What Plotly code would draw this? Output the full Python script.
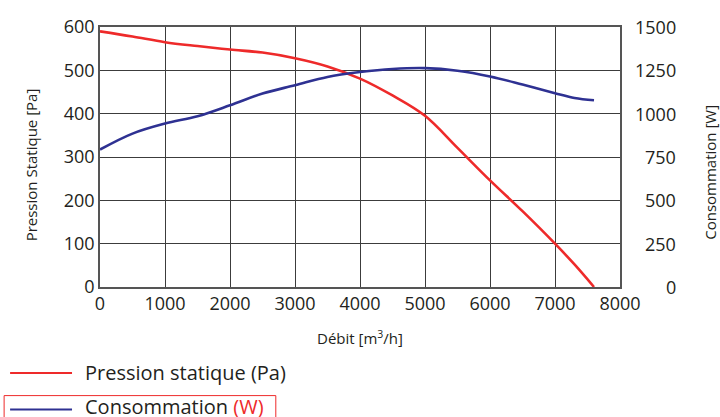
import plotly.graph_objects as go

# Data
debit = [0, 500, 1000, 1500, 2000, 2500, 3000, 3500, 4000, 4500, 5000, 5500, 6000, 6500, 7000, 7300, 7600]
pression = [590, 578, 565, 556, 548, 541, 528, 509, 481, 442, 395, 321, 246, 175, 100, 52, 0]
consommation = [793, 885, 943, 985, 1048, 1116, 1164, 1212, 1240, 1258, 1263, 1248, 1215, 1168, 1118, 1090, 1077]

x_ticks = [0, 1000, 2000, 3000, 4000, 5000, 6000, 7000, 8000]
y_ticks = [0, 100, 200, 300, 400, 500, 600]
y2_ticks = [0, 250, 500, 750, 1000, 1250, 1500]

legend_names = ["Pression statique (Pa)", "Consommation <span style='color:#ee2a2a'>(W)</span>"]

RED = "#ee2a2a"
BLUE = "#2e3192"
TXT = "#231f20"
GRID = "#3c3c3c"
FONT = "Open Sans"

fig = go.Figure()
fig.add_trace(go.Scatter(x=debit, y=pression, mode="lines", line=dict(color=RED, width=2.6, shape="spline"),
                         name="Pression statique (Pa)", showlegend=False))
fig.add_trace(go.Scatter(x=debit, y=consommation, mode="lines", line=dict(color=BLUE, width=2.6, shape="spline"),
                         name="Consommation (W)", yaxis="y2", showlegend=False))

axis_common = dict(showgrid=True, gridcolor=GRID, gridwidth=1, showline=True, linecolor="#555555",
                   linewidth=1.5, mirror=True, zeroline=False, ticks="",
                   tickfont=dict(family=FONT, size=18, color=TXT))

fig.update_layout(
    width=720, height=417,
    margin=dict(l=100, r=99.5, t=26.7, b=130.3, autoexpand=False),
    paper_bgcolor="white", plot_bgcolor="white",
    font=dict(family=FONT, color=TXT),
    xaxis=dict(range=[0, 8000], tickvals=x_ticks, ticktext=[str(v) for v in x_ticks],
               title=dict(text="Débit [m<sup>3</sup>/h]", font=dict(family=FONT, size=15, color=TXT), standoff=19),
               **axis_common),
    yaxis=dict(range=[0, 600], tickvals=y_ticks, ticktext=[str(v) for v in y_ticks], **axis_common),
    yaxis2=dict(range=[0, 1500], tickvals=y2_ticks, overlaying="y", side="right", showgrid=False,
                showticklabels=False, zeroline=False, showline=False, ticks=""),
)

# left axis title
fig.add_annotation(x=-0.1326, xref="paper", y=0.468, yref="paper", text="Pression Statique [Pa]", showarrow=False,
                   textangle=-90, xanchor="center", yanchor="middle", font=dict(family=FONT, size=15, color=TXT))

# right axis tick labels, right aligned
for v in y2_ticks:
    fig.add_annotation(x=1.112, xref="paper", y=v, yref="y2", text=str(v), showarrow=False,
                       xanchor="right", yanchor="middle", font=dict(family=FONT, size=18, color=TXT))

# right axis title
fig.add_annotation(x=1.1739, xref="paper", y=0.441, yref="paper", text="Consommation [W]", showarrow=False,
                   textangle=-90, xanchor="center", yanchor="middle", font=dict(family=FONT, size=15, color=TXT))

# legend
leg_line_y = [-0.331, -0.4715]
leg_text_y = [-0.3273, -0.4600]
leg_col = [RED, BLUE]
for name, ly, ty, col in zip(legend_names, leg_line_y, leg_text_y, leg_col):
    fig.add_shape(type="line", xref="paper", yref="paper", x0=-0.1729, x1=-0.0538, y0=ly, y1=ly,
                  line=dict(color=col, width=2))
    fig.add_annotation(x=-0.0327, xref="paper", y=ty, yref="paper", text=name, showarrow=False,
                       xanchor="left", yanchor="middle", font=dict(family=FONT, size=20, color=TXT))
fig.add_shape(type="rect", xref="paper", yref="paper", x0=-0.1844, x1=0.3381, y0=-0.4177, y1=-0.52,
              line=dict(color=RED, width=1))

fig.write_html("out.html", post_script="document.body.style.margin='0';",
               config={"displayModeBar": False})
